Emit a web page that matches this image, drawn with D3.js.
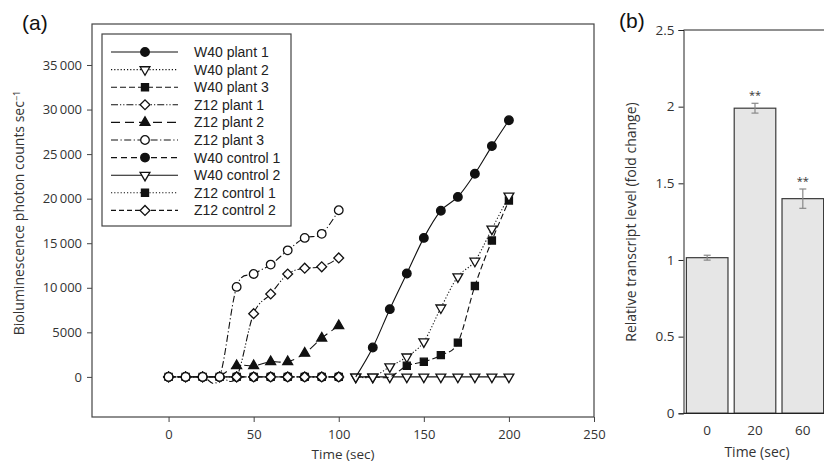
<!DOCTYPE html>
<html>
<head>
<meta charset="utf-8">
<script src="https://cdn.jsdelivr.net/npm/d3@7"></script>
<style>
  body { margin: 0; background: #fff; }
  svg { display: block; }
</style>
</head>
<body>
<script>
// panel (a): bioluminescence time courses, panel (b): transcript bars

var width = 824;
var height = 464;

// time points (sec)
var timesZ12 = [0, 10, 20, 30, 40, 50, 60, 70, 80, 90, 100];
var timesZ12p2 = [30, 40, 50, 60, 70, 80, 90, 100];
var timesW40 = [110, 120, 130, 140, 150, 160, 170, 180, 190, 200];

// photon counts per series
var w40Plant1 = [0, 3300, 7600, 11600, 15600, 18650, 20200, 22800, 25900, 28800];
var w40Plant2 = [0, 0, 1150, 2250, 3950, 7750, 11250, 13000, 16600, 20300];
var w40Plant3 = [0, 0, 0, 1250, 1700, 2450, 3850, 10200, 15300, 19800];
var z12Plant1 = [0, 0, 0, 0, 0, 7100, 9300, 11550, 12200, 12350, 13350];
var z12Plant2 = [0, 1250, 1250, 1700, 1700, 2650, 4350, 5750];
var z12Plant3 = [0, 0, 0, 0, 10100, 11550, 12600, 14200, 15600, 16050, 18700];
var w40Control1 = [0, 0, 0, 0, 0, 0, 0, 0, 0, 0, 0];
var w40Control2 = [0, 0, 0, 0, 0, 0, 0, 0, 0, 0];
var z12Control1 = [0, 0, 0, 0, 0, 0, 0, 0, 0, 0, 0];
var z12Control2 = [0, 0, 0, 0, 0, 0, 0, 0, 0, 0, 0];

var xTicksA = [0, 50, 100, 150, 200, 250];
var yTicksA = [0, 5000, 10000, 15000, 20000, 25000, 30000, 35000];

// panel (b)
var barCats = ["0", "20", "60"];
var barVals = [1.015, 1.99, 1.40];
var barErr = [0.016, 0.032, 0.063];
var barSig = ["", "**", "**"];
var yTicksB = [0, 0.5, 1, 1.5, 2, 2.5];

// series table in legend order; baseline: whether zero readings get a marker
var series = [
  { name: "W40 plant 1", t: timesW40, v: w40Plant1, sym: "circle", fill: true, dash: null, baseline: false },
  { name: "W40 plant 2", t: timesW40, v: w40Plant2, sym: "tridown", fill: false, dash: "1.2,2", baseline: true },
  { name: "W40 plant 3", t: timesW40, v: w40Plant3, sym: "square", fill: true, dash: "6,3", baseline: false },
  { name: "Z12 plant 1", t: timesZ12, v: z12Plant1, sym: "diamond", fill: false, dash: "7,2,1.2,2,1.2,2", baseline: true },
  { name: "Z12 plant 2", t: timesZ12p2, v: z12Plant2, sym: "triup", fill: true, dash: "9,5", baseline: false },
  { name: "Z12 plant 3", t: timesZ12, v: z12Plant3, sym: "circle", fill: false, dash: "7,2.5,1.2,2.5", baseline: true },
  { name: "W40 control 1", t: timesZ12, v: w40Control1, sym: "circle", fill: true, dash: "6,4", baseline: true },
  { name: "W40 control 2", t: timesW40, v: w40Control2, sym: "tridown", fill: false, dash: null, baseline: true },
  { name: "Z12 control 1", t: timesZ12, v: z12Control1, sym: "square", fill: true, dash: "1.2,2", baseline: true },
  { name: "Z12 control 2", t: timesZ12, v: z12Control2, sym: "diamond", fill: false, dash: "5,3", baseline: true }
];
// filled controls go underneath everything else
var drawOrder = [6, 8, 9, 7, 4, 2, 1, 0, 3, 5];

var svg = d3.select("body").append("svg")
  .attr("width", width)
  .attr("height", height);

var symbolPath = function(s) {
  if (s === "circle") return d3.symbol(d3.symbolCircle, 58)();
  if (s === "square") return d3.symbol(d3.symbolSquare, 50)();
  if (s === "diamond") return d3.symbol(d3.symbolSquare, 48)();
  return d3.symbol(d3.symbolTriangle, 42)();
};
var symbolRotate = function(s) {
  if (s === "diamond") return 45;
  if (s === "tridown") return 180;
  return 0;
};

// ---------- panel (a) ----------
var x = d3.scaleLinear().domain([-45, 250]).range([92, 594]);
var y = d3.scaleLinear().domain([-4500, 39600]).range([417, 24]);

var fmt = function(d) {
  return d >= 10000 ? d3.format(",")(d).replace(",", "\u2009") : String(d);
};

var gx = svg.append("g").attr("transform", "translate(0,417)")
  .call(d3.axisBottom(x).tickValues(xTicksA).tickSize(5).tickPadding(5));
var gy = svg.append("g").attr("transform", "translate(92,0)")
  .call(d3.axisLeft(y).tickValues(yTicksA).tickFormat(fmt).tickSize(5).tickPadding(5));
[gx, gy].forEach(function(g) {
  g.select(".domain").remove();
  g.selectAll("line").attr("stroke", "#444");
  g.selectAll("text").attr("fill", "#333").style("font-family", "Open Sans").style("font-size", "13px");
});
gx.selectAll("text").attr("dy", "0.95em");

svg.append("rect")
  .attr("x", 92).attr("y", 24).attr("width", 502).attr("height", 393)
  .attr("fill", "none").attr("stroke", "#444").attr("stroke-width", 1.2);

var line = d3.line()
  .x(function(d) { return x(d[0]); })
  .y(function(d) { return y(d[1]); })
  .curve(d3.curveCardinal.tension(0));

var plot = svg.append("g");
drawOrder.forEach(function(i) {
  var s = series[i];
  var pts = s.t.map(function(t, k) { return [t, s.v[k]]; });
  var g = plot.append("g");
  g.append("path")
    .attr("d", line(pts))
    .attr("fill", "none")
    .attr("stroke", "#111")
    .attr("stroke-width", 1.1)
    .attr("stroke-dasharray", s.dash);
  var marks = pts.filter(function(d) { return s.baseline || d[1] !== 0; });
  g.selectAll("path.m").data(marks).enter().append("path")
    .attr("class", "m")
    .attr("d", symbolPath(s.sym))
    .attr("transform", function(d) {
      return "translate(" + x(d[0]) + "," + y(d[1]) + ") rotate(" + symbolRotate(s.sym) + ")";
    })
    .attr("fill", s.fill ? "#111" : "#fff")
    .attr("stroke", "#111")
    .attr("stroke-width", 1.3);
});

// legend
var lg = svg.append("g");
lg.append("rect")
  .attr("x", 102).attr("y", 34).attr("width", 189).attr("height", 192)
  .attr("fill", "#fff").attr("stroke", "#444").attr("stroke-width", 1.2);
series.forEach(function(s, i) {
  var ly = 52 + i * 17.6;
  lg.append("line")
    .attr("x1", 111).attr("x2", 178).attr("y1", ly).attr("y2", ly)
    .attr("stroke", "#111").attr("stroke-width", 1.1)
    .attr("stroke-dasharray", s.dash);
  lg.append("path")
    .attr("d", symbolPath(s.sym))
    .attr("transform", "translate(145," + ly + ") rotate(" + symbolRotate(s.sym) + ")")
    .attr("fill", s.fill ? "#111" : "#fff")
    .attr("stroke", "#111").attr("stroke-width", 1.3);
  lg.append("text")
    .attr("x", 194).attr("y", ly).attr("dy", "0.36em")
    .style("font-family", "Liberation Sans").style("font-size", "14px")
    .attr("fill", "#222")
    .text(s.name);
});

svg.append("text")
  .attr("x", 343).attr("y", 454).attr("dy", "0.35em")
  .attr("text-anchor", "middle")
  .style("font-family", "Open Sans").style("font-size", "13.5px").attr("fill", "#333")
  .text("Time (sec)");

var yl = svg.append("text")
  .attr("transform", "translate(19,213) rotate(-90)")
  .attr("text-anchor", "middle")
  .attr("dy", "0.35em")
  .style("font-family", "Open Sans").style("font-size", "14px").attr("fill", "#333");
yl.append("tspan").text("Bioluminescence photon counts sec");
yl.append("tspan").attr("dy", "-0.45em").style("font-size", "9px").text("\u22121");

svg.append("text")
  .attr("x", 22).attr("y", 30)
  .style("font-family", "Liberation Sans").style("font-size", "21px").attr("fill", "#111")
  .text("(a)");

// ---------- panel (b) ----------
var xb = d3.scaleBand().domain(barCats).range([684, 826]).paddingInner(0.13).paddingOuter(0.05);
var yb = d3.scaleLinear().domain([0, 2.5]).range([413.3, 30]);

var gyb = svg.append("g").attr("transform", "translate(683.5,0)")
  .call(d3.axisLeft(yb).tickValues(yTicksB).tickFormat(d3.format("")).tickSize(5).tickPadding(4));
gyb.select(".domain").attr("stroke", "#222");
gyb.selectAll("line").attr("stroke", "#222");
gyb.selectAll("text").attr("fill", "#333").style("font-family", "Open Sans").style("font-size", "13.5px");

svg.append("line")
  .attr("x1", 683.5).attr("x2", 824).attr("y1", yb(2.5)).attr("y2", yb(2.5))
  .attr("stroke", "#222");

svg.selectAll("rect.bar").data(barCats).enter().append("rect")
  .attr("class", "bar")
  .attr("x", function(d) { return xb(d); })
  .attr("width", xb.bandwidth())
  .attr("y", function(d, i) { return yb(barVals[i]); })
  .attr("height", function(d, i) { return yb(0) - yb(barVals[i]); })
  .attr("fill", "#e6e6e6")
  .attr("stroke", "#3a3a3a")
  .attr("stroke-width", 1.2);

svg.append("line")
  .attr("x1", 683.5).attr("x2", 824).attr("y1", yb(0)).attr("y2", yb(0))
  .attr("stroke", "#222").attr("stroke-width", 1.2);

barCats.forEach(function(c, i) {
  var cx = xb(c) + xb.bandwidth() / 2;
  var top = yb(barVals[i] + barErr[i]);
  var bot = yb(barVals[i] - barErr[i]);
  var eg = svg.append("g").attr("stroke", "#888").attr("stroke-width", 1.2);
  eg.append("line").attr("x1", cx).attr("x2", cx).attr("y1", top).attr("y2", bot);
  eg.append("line").attr("x1", cx - 3.5).attr("x2", cx + 3.5).attr("y1", top).attr("y2", top);
  eg.append("line").attr("x1", cx - 3.5).attr("x2", cx + 3.5).attr("y1", bot).attr("y2", bot);
  if (barSig[i]) {
    svg.append("text")
      .attr("x", cx).attr("y", top - 4)
      .attr("text-anchor", "middle")
      .style("font-family", "Open Sans").style("font-size", "11px").attr("fill", "#333")
      .text(barSig[i]);
  }
  svg.append("text")
    .attr("x", cx).attr("y", 430).attr("dy", "0.35em")
    .attr("text-anchor", "middle")
    .style("font-family", "Open Sans").style("font-size", "13.5px").attr("fill", "#333")
    .text(c);
});

svg.append("text")
  .attr("x", 757).attr("y", 452).attr("dy", "0.35em")
  .attr("text-anchor", "middle")
  .style("font-family", "Open Sans").style("font-size", "14px").attr("fill", "#333")
  .text("Time (sec)");

svg.append("text")
  .attr("transform", "translate(631,222) rotate(-90)")
  .attr("text-anchor", "middle").attr("dy", "0.35em")
  .style("font-family", "Open Sans").style("font-size", "14px").attr("fill", "#333")
  .text("Relative transcript level (fold change)");

svg.append("text")
  .attr("x", 619).attr("y", 28)
  .style("font-family", "Liberation Sans").style("font-size", "21px").attr("fill", "#111")
  .text("(b)");
</script>
</body>
</html>
